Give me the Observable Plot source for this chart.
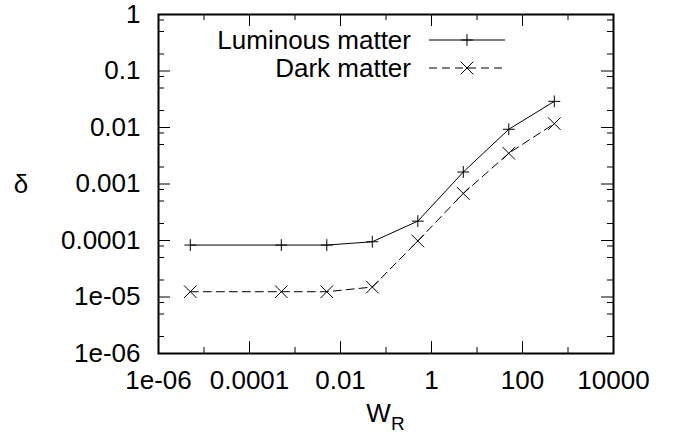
<!DOCTYPE html>
<html><head><meta charset="utf-8">
<script src="https://cdn.jsdelivr.net/npm/d3@7"></script>
<script src="https://cdn.jsdelivr.net/npm/@observablehq/plot@0.6"></script>
<style>html,body{margin:0;padding:0;background:#fff} svg{display:block}</style>
</head><body><div id="chart"></div>
<script>
// ---- data ----
const wR       = [5e-6, 5e-4, 5e-3, 5e-2, 0.5, 5, 50, 500];
const luminous = [8.3e-5, 8.3e-5, 8.3e-5, 9.5e-5, 2.2e-4, 1.63e-3, 9.3e-3, 0.029];
const dark     = [1.24e-5, 1.24e-5, 1.24e-5, 1.5e-5, 9.8e-5, 6.8e-4, 3.5e-3, 0.0117];
const seriesNames = ["Luminous matter", "Dark matter"];

// ---- ticks ----
const xMajor = [1e-6, 1e-4, 1e-2, 1, 1e2, 1e4];
const xMajorLabels = ["1e-06", "0.0001", "0.01", "1", "100", "10000"];
const xMinor = [1e-5, 1e-3, 1e-1, 1e1, 1e3];
const yMajor = [1e-6, 1e-5, 1e-4, 1e-3, 1e-2, 1e-1, 1];
const yMajorLabels = ["1e-06", "1e-05", "0.0001", "0.001", "0.01", "0.1", "1"];
const yMinorMultipliers = [2, 5, 8];
const yMinor = yMajor.slice(0, -1).flatMap(d => yMinorMultipliers.map(m => d * m));

const xLab = new Map(xMajor.map((d, i) => [d, xMajorLabels[i]]));
const yLab = new Map(yMajor.map((d, i) => [d, yMajorLabels[i]]));

const rows = [
  ...wR.map((x, i) => ({x, y: luminous[i], s: seriesNames[0]})),
  ...wR.map((x, i) => ({x, y: dark[i], s: seriesNames[1]}))
];
const lum = rows.filter(d => d.s === seriesNames[0]);
const drk = rows.filter(d => d.s === seriesNames[1]);

const W = 673, H = 436, mL = 158, mR = 60, mT = 14, mB = 83;
const fW = W - mL - mR, fH = H - mT - mB;
const MAJ = 12, MIN = 6;
const FONT = "'Liberation Sans', Arial, Helvetica, sans-serif";
const FS = "26px";
const DASH = "8,5";

const plot = Plot.plot({
  width: W, height: H,
  marginLeft: mL, marginRight: mR, marginTop: mT, marginBottom: mB,
  style: {fontFamily: FONT, fontSize: FS, color: "#000", background: "#fff"},
  x: {type: "log", domain: [1e-6, 1e4], label: null},
  y: {type: "log", domain: [1e-6, 1], label: null},
  marks: [
    // inward ticks on all four sides
    Plot.tickX(xMajor, {x: d => d, insetTop: fH - MAJ, stroke: "#000"}),
    Plot.tickX(xMajor, {x: d => d, insetBottom: fH - MAJ, stroke: "#000"}),
    Plot.tickX(xMinor, {x: d => d, insetTop: fH - MIN, stroke: "#000"}),
    Plot.tickX(xMinor, {x: d => d, insetBottom: fH - MIN, stroke: "#000"}),
    Plot.tickY(yMajor, {y: d => d, insetRight: fW - MAJ, stroke: "#000"}),
    Plot.tickY(yMajor, {y: d => d, insetLeft: fW - MAJ, stroke: "#000"}),
    Plot.tickY(yMinor, {y: d => d, insetRight: fW - MIN, stroke: "#000"}),
    Plot.tickY(yMinor, {y: d => d, insetLeft: fW - MIN, stroke: "#000"}),
    Plot.axisX(xMajor, {tickSize: 0, tickPadding: 17, tickFormat: d => xLab.get(d), fill: "#000"}),
    Plot.axisY(yMajor, {tickSize: 0, tickPadding: 18, tickFormat: d => yLab.get(d), fill: "#000"}),
    Plot.line(lum, {x: "x", y: "y", stroke: "#000", strokeWidth: 1}),
    Plot.line(drk, {x: "x", y: "y", stroke: "#000", strokeWidth: 1, strokeDasharray: DASH}),
    Plot.dot(lum, {x: "x", y: "y", symbol: "plus", r: 3.9, stroke: "#000", strokeWidth: 1}),
    Plot.dot(drk, {x: "x", y: "y", symbol: "times", r: 5.8, stroke: "#000", strokeWidth: 1}),
    Plot.frame({stroke: "#000", strokeWidth: 2})
  ]
});

document.getElementById("chart").appendChild(plot);

// ---- axis titles and key (drawn into the same SVG) ----
const svg = d3.select(plot);
const xr = plot.scale("x").range, yr = plot.scale("y").range;
const cx = (xr[0] + xr[1]) / 2, cy = (yr[0] + yr[1]) / 2;

const xt = svg.append("text").attr("x", cx).attr("y", yr[0] + 69)
  .attr("text-anchor", "middle").attr("fill", "#000")
  .style("font-family", FONT).style("font-size", FS).text("W");
xt.append("tspan").attr("dy", 8).style("font-size", "19px").text("R");

svg.append("text").attr("x", 21).attr("y", cy)
  .attr("text-anchor", "middle").attr("dominant-baseline", "central").attr("fill", "#000")
  .style("font-family", FONT).style("font-size", FS).text("δ");

const key = svg.append("g");
const keyTextX = 411, keyLine = [429, 505], keyRows = [40, 68];
const symbols = [d3.symbol(d3.symbolPlus, Math.PI * 3.9 * 3.9), d3.symbol(d3.symbolTimes, Math.PI * 5.8 * 5.8)];
seriesNames.forEach((name, i) => {
  const y = keyRows[i];
  key.append("text").attr("x", keyTextX).attr("y", y)
    .attr("text-anchor", "end").attr("dominant-baseline", "central").attr("fill", "#000")
    .style("font-family", FONT).style("font-size", FS).text(name);
  key.append("line").attr("x1", keyLine[0]).attr("x2", keyLine[1]).attr("y1", y).attr("y2", y)
    .attr("stroke", "#000").attr("stroke-width", 1).attr("stroke-dasharray", i ? DASH : null);
  key.append("path").attr("d", symbols[i]()).attr("transform", `translate(${(keyLine[0] + keyLine[1]) / 2},${y})`)
    .attr("fill", "none").attr("stroke", "#000").attr("stroke-width", 1);
});
</script>
</body></html>
